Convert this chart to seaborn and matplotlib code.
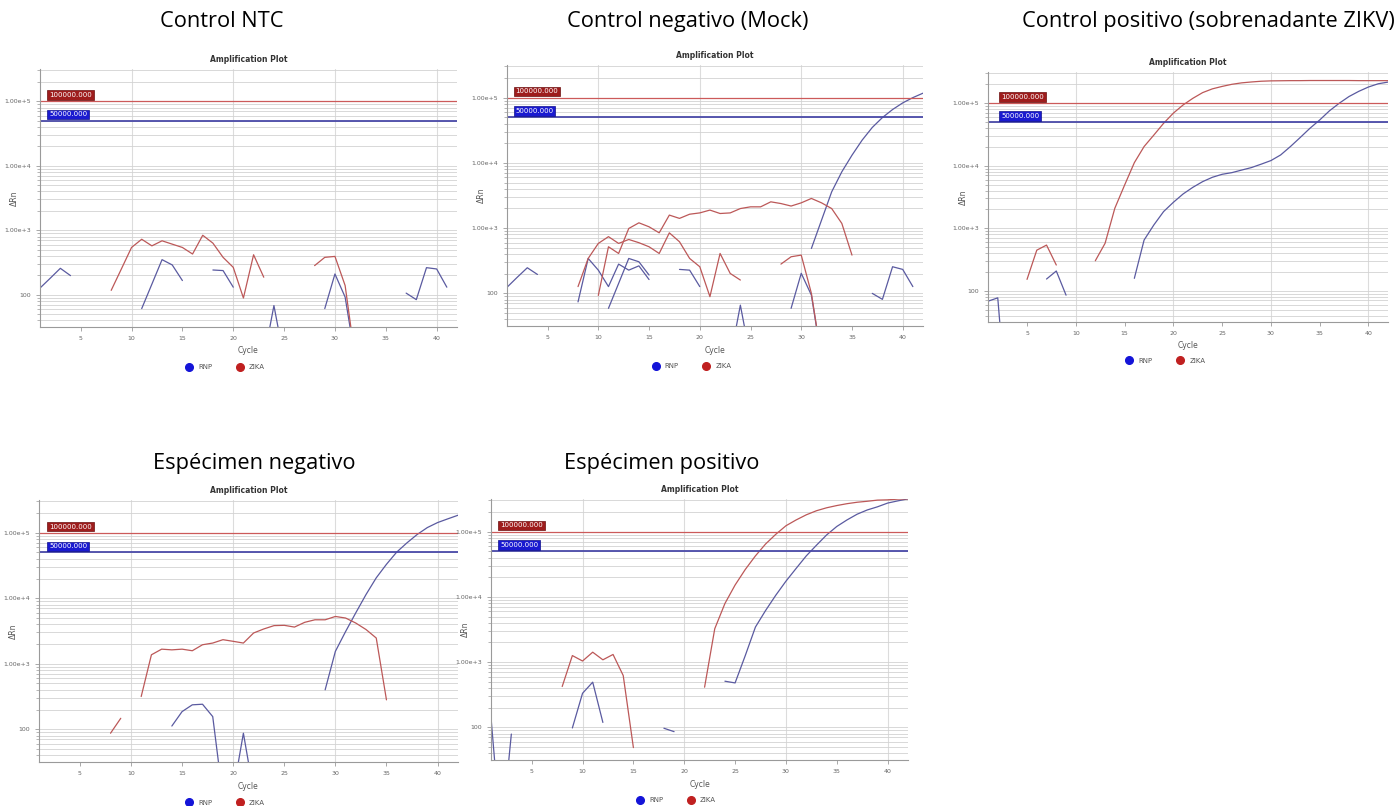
import matplotlib
matplotlib.use("Agg")
import matplotlib.pyplot as plt
import matplotlib.ticker as mticker
import matplotlib.transforms as mtransforms
from matplotlib.lines import Line2D
import numpy as np
import pandas as pd
import seaborn as sns

N = None

# ---------------- data (delta Rn per cycle 1..42, None = not drawn) ----------------
CYCLES = list(range(1, 43))

NTC_RNP = [127, 180, 257, 198, N, N, N, N, N, N, 61, 146, 350, 290, 166, N, N, 242, 237, 131,
           N, N, 10, 68, 10, N, N, N, 61, 210, 92, 10, N, N, N, N, 106, 84, 263, 251, 131, N]
NTC_ZIKA = [N, N, N, N, N, N, N, 117, 251, 541, 725, 573, 686, 609, 541, 428, 836, 631, 380, 266,
            89, 417, 187, N, N, N, N, 283, 380, 393, 139, 10, N, N, N, N, N, N, N, N, N, N]

MOCK_RNP_1 = [124, 176, 247, 195, N, N, N, N, N, N, 59, 142, 343, 305, 191, N, N, 233, 227, 127,
              N, N, 10, 66, 10, N, N, N, 59, 203, 94, 10, N, N, N, N, 100, 81, 256, 233, 127, N]
MOCK_RNP_2 = [N, N, N, N, N, N, N, 74, 343, 227, 127, 281, 227, 264, 163, N, N, N, N, N,
              N, N, N, N, N, N, N, N, N, N, 488, 1325, 3600, 7300, 13100, 22300, 34900, 49500,
              65700, 83000, 100000, 117000]
MOCK_ZIKA_1 = [N, N, N, N, N, N, N, N, N, 93, 518, 409, 988, 1206, 1048, 847, 1584, 1410, 1634,
               1711, 1890, 1675, 1711, 1995, 2120, 2120, 2530, 2380, 2180, 2440, 2850, 2440, 1995,
               1180, 386, N, N, N, N, N, N, N]
MOCK_ZIKA_2 = [N, N, N, N, N, N, N, 127, 343, 583, 740, 583, 670, 598, 518, 409, 847, 618, 343,
               256, 89, 409, 202, 160, N, N, N, 281, 364, 386, 100, 10, N, N, N, N, N, N, N, N, N, N]

POSCTL_ZIKA = [N, N, N, N, 152, 446, 538, 258, N, N, N, 302, 574, 2090, 4900, 11200, 20300, 31000,
               47800, 69500, 94000, 120000, 148000, 170000, 186000, 201000, 212000, 219000, 225000,
               228000, 229000, 230000, 230000, 231000, 231000, 231000, 231000, 231000, 230000,
               230000, 230000, 230000]
POSCTL_RNP = [68, 77, 1, N, N, N, 154, 207, 85, N, N, N, N, N, N, 158, 648, 1130, 1850, 2600, 3540,
              4520, 5570, 6540, 7300, 7760, 8530, 9350, 10600, 12100, 14900, 20300, 28300, 39800,
              54000, 75700, 100000, 128000, 155000, 182000, 205000, 218000]

NEGSPEC_ZIKA = [N, N, N, N, N, N, N, 87, 147, N, 316, 1370, 1670, 1630, 1670, 1580, 1950, 2070,
                2330, 2200, 2070, 2950, 3400, 3820, 3860, 3630, 4290, 4690, 4690, 5270, 4990, 4180,
                3330, 2470, 281, N, N, N, N, N, N, N]
NEGSPEC_RNP = [N, N, N, N, N, N, N, N, N, N, N, N, N, 112, 186, 236, 241, 156, 9, 11, 87, 11,
               N, N, N, N, N, N, 400, 1545, 3100, 6000, 11400, 20500, 33000, 50600, 70000, 94000,
               120000, 143000, 163000, 185000]

POSSPEC_ZIKA = [N, N, N, N, N, N, N, 423, 1260, 1040, 1420, 1085, 1310, 623, 49, N, N, N, N, N, N,
                413, 3250, 7920, 15200, 26300, 42500, 64700, 91000, 123000, 151000, 181000, 209000,
                232000, 251000, 268000, 282000, 292000, 304000, 307000, 315000, 318000]
POSSPEC_RNP = [142, 2, 79, N, N, N, N, N, 98, 333, 493, 119, N, N, N, N, N, 97, 86, N, N, N, N,
               510, 480, 1260, 3450, 6190, 10600, 17400, 27300, 42500, 61900, 89000, 120000,
               151000, 185000, 215000, 240000, 274000, 296000, 318000]

PANEL_TITLES = ["Control NTC", "Control negativo (Mock)", "Control positivo (sobrenadante ZIKV)",
                "Espécimen negativo", "Espécimen positivo"]
PANEL_WELLS = [
    [("RNP", NTC_RNP), ("ZIKA", NTC_ZIKA)],
    [("RNP", MOCK_RNP_1), ("RNP", MOCK_RNP_2), ("ZIKA", MOCK_ZIKA_1), ("ZIKA", MOCK_ZIKA_2)],
    [("RNP", POSCTL_RNP), ("ZIKA", POSCTL_ZIKA)],
    [("RNP", NEGSPEC_RNP), ("ZIKA", NEGSPEC_ZIKA)],
    [("RNP", POSSPEC_RNP), ("ZIKA", POSSPEC_ZIKA)],
]
THRESH_ZIKA = 100000
THRESH_RNP = 50000
THRESH_LABELS = ["100000.000", "50000.000"]
TARGETS = ["RNP", "ZIKA"]
X_TICKS = [5, 10, 15, 20, 25, 30, 35, 40]
X_GRID = [10, 20, 30, 40]
Y_TICKS = [100, 1000, 10000, 100000]

# ---------------- build long-form data (split at gaps) ----------------
rows = []
for p, wells in enumerate(PANEL_WELLS):
    for w, (target, vals) in enumerate(wells):
        seg = 0
        prev = False
        for c, v in zip(CYCLES, vals):
            if v is None:
                if prev:
                    seg += 1
                prev = False
                continue
            prev = True
            rows.append(dict(panel=p, target=target, unit=f"{w}-{seg}", cycle=c, drn=v))
df = pd.DataFrame(rows)

# ---------------- figure ----------------
W, H = 1397, 806
sns.set_theme(style="white")
plt.rcParams["font.family"] = ["DejaVu Sans"]
fig = plt.figure(figsize=(W / 100, H / 100), dpi=100)
fig.patch.set_facecolor("white")


def rect(l, t, r, b):
    return [l / W, 1 - b / H, (r - l) / W, (b - t) / H]


AX_RECTS = [rect(40, 69, 457, 327), rect(507, 65, 923, 326), rect(988, 72, 1388, 322),
            rect(39, 500, 458, 762), rect(491, 499, 908, 760)]
TITLE_POS = [(222, 27), (688, 27), (1208, 27), (254, 469), (662, 469)]
BOX_X = [0.022, 0.02, 0.033, 0.024, 0.022]

LINE_COL = {"RNP": "#5a5aa0", "ZIKA": "#bc5858"}
DOT_COL = {"RNP": "#1414d8", "ZIKA": "#c02020"}


def yfmt(v, pos):
    if v < 500:
        return f"{int(round(v))}"
    e = int(round(np.log10(v)))
    return f"1.00e+{e}"


for p in range(5):
    ax = fig.add_axes(AX_RECTS[p])
    ax.set_yscale("log")
    ax.set_xlim(1, 42)
    ax.set_ylim(10 ** 1.5, 10 ** 5.5)
    ax.set_facecolor("white")
    ax.yaxis.set_major_locator(mticker.FixedLocator(Y_TICKS))
    ax.yaxis.set_minor_locator(mticker.LogLocator(base=10, subs=np.arange(2, 10)))
    ax.yaxis.set_major_formatter(mticker.FuncFormatter(yfmt))
    ax.yaxis.set_minor_formatter(mticker.NullFormatter())
    ax.grid(True, axis="y", which="both", color="#d2d2d2", lw=0.6)
    for gx in X_GRID:
        ax.axvline(gx, color="#dcdcdc", lw=0.8, zorder=0)
    ax.set_xticks(X_TICKS)
    sub = df[df.panel == p]
    sns.lineplot(data=sub, x="cycle", y="drn", hue="target", units="unit", estimator=None,
                 palette=LINE_COL, hue_order=TARGETS, legend=False, lw=0.9, ax=ax)
    ax.axhline(THRESH_ZIKA, color="#cc5a5a", lw=0.9)
    ax.axhline(THRESH_RNP, color="#4a4aa8", lw=1.3)
    tr = mtransforms.blended_transform_factory(ax.transAxes, ax.transData)
    ax.text(BOX_X[p], THRESH_ZIKA * 1.12, THRESH_LABELS[0], transform=tr, ha="left", va="bottom",
            fontsize=5, color="white",
            bbox=dict(boxstyle="square,pad=0.25", fc="#9e1c1c", ec="#6a1010", lw=0.5))
    ax.text(BOX_X[p], THRESH_RNP * 1.12, THRESH_LABELS[1], transform=tr, ha="left", va="bottom",
            fontsize=5, color="white",
            bbox=dict(boxstyle="square,pad=0.25", fc="#1a1ad0", ec="#10108a", lw=0.5))
    for s in ["top", "right"]:
        ax.spines[s].set_visible(False)
    for s in ["left", "bottom"]:
        ax.spines[s].set_color("#9a9a9a")
        ax.spines[s].set_linewidth(0.8)
    ax.tick_params(axis="both", which="major", labelsize=4.5, labelcolor="#666666",
                   color="#9a9a9a", length=3, width=0.6, left=True, bottom=True)
    ax.tick_params(axis="y", which="minor", color="#9a9a9a", length=2, width=0.5, left=True)
    ax.set_title("Amplification Plot", fontsize=5.5, fontweight="bold", color="#333333", pad=5)
    ax.set_xlabel("Cycle", fontsize=5.5, color="#555555")
    ax.xaxis.set_label_coords(0.5, -0.075)
    ax.set_ylabel("ΔRn", fontsize=5.5, color="#555555")
    ax.yaxis.set_label_coords(-0.05, 0.5)
    handles = [Line2D([], [], ls="none", marker="o", markersize=5.5, color=DOT_COL[t]) for t in TARGETS]
    ax.legend(handles, TARGETS, loc="center", bbox_to_anchor=(0.44, -0.155), ncol=2, frameon=False,
              fontsize=5, handletextpad=0.3, columnspacing=3.0, labelcolor="#555555")
    tx, ty = TITLE_POS[p]
    fig.text(tx / W, 1 - ty / H, PANEL_TITLES[p], ha="center", va="baseline", fontsize=15.7,
             family=["Open Sans", "DejaVu Sans"], color="black")

fig.savefig("out.png", dpi=100, facecolor="white")
